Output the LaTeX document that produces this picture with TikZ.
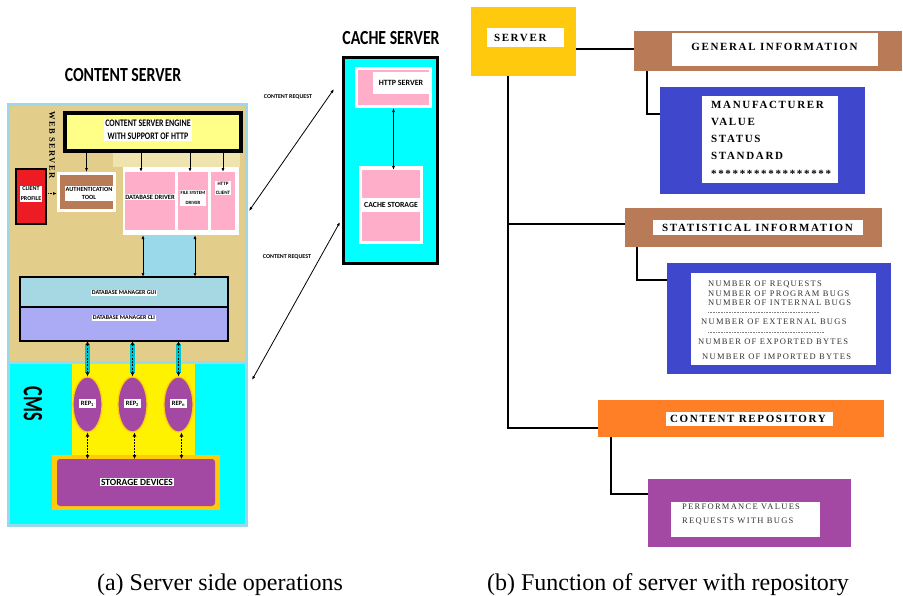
\documentclass[tikz,border=0pt]{standalone}
\usepackage{fontspec}
\setmainfont{Liberation Serif}
\newfontfamily\cbf[FakeStretch=0.79]{Carlito}
\newfontfamily\cbn{Carlito}
\newfontfamily\cbx[FakeStretch=0.65]{Carlito}
\newfontfamily\tls[LetterSpace=15]{Liberation Serif}
\usetikzlibrary{arrows.meta,shapes.geometric,calc}
\newcommand\fsz[2]{\fontsize{#1}{#2}\selectfont}
\definecolor{lblue}{HTML}{99D9EA}
\definecolor{tanbg}{HTML}{E3CD8B}
\definecolor{tanlt}{HTML}{EFE4B0}
\definecolor{engy}{HTML}{FFFF88}
\definecolor{redc}{HTML}{ED1C24}
\definecolor{brownc}{HTML}{B97A57}
\definecolor{pinkc}{HTML}{FFAEC9}
\definecolor{guic}{HTML}{A6D8E4}
\definecolor{clic}{HTML}{AAAAF5}
\definecolor{ylwc}{HTML}{FFF200}
\definecolor{purc}{HTML}{A349A4}
\definecolor{goldc}{HTML}{FFC90E}
\definecolor{bluec}{HTML}{3F48CC}
\definecolor{orangec}{HTML}{FF7F27}
\definecolor{cyanc}{HTML}{00FFFF}
\definecolor{tealc}{HTML}{00C4CC}
\definecolor{txtgray}{HTML}{333333}
\begin{document}
\begin{tikzpicture}[x=1pt,y=-1pt,
  box/.style={inner sep=0pt, outer sep=0pt, draw=none},
  wtxt/.style={fill=white, inner sep=1pt, align=center},
  arr/.style={-{Latex[length=4pt,width=3pt]}, line width=0.8pt},
  darr/.style={{Latex[length=4pt,width=3pt]}-{Latex[length=4pt,width=3pt]}, line width=0.8pt},
  cyarr/.style={{Latex[length=4pt,width=4pt]}-{Latex[length=4pt,width=4pt]}, line width=1.8pt, dash pattern=on 1.8pt off 1.5pt,
     preaction={draw=tealc, line width=4.5pt, solid, -, shorten <=3pt, shorten >=3pt}},
  wharr/.style={{Latex[length=4pt,width=4pt]}-{Latex[length=4pt,width=4pt]}, line width=1.8pt, dash pattern=on 1.6pt off 1.4pt},
  conn/.style={line width=2.5pt},
  rtitle/.style={font=\tls\bfseries\fsz{11}{13}, inner sep=0pt},
  rline/.style={font=\tls\fsz{8.5}{10}, text=txtgray, inner sep=0pt, anchor=west},
  ltitle/.style={font=\cbf\bfseries\fsz{20}{22}},
  captxt/.style={font=\fsz{24}{26}, anchor=base}
]
\useasboundingbox (0,0) rectangle (903,595);

%================ (a) left panel =================
\node[ltitle] (cstitle) at (123,75) {CONTENT SERVER};
\node[box, fill=lblue, minimum width=241, minimum height=424] (csout) at (127.5,315) {};
\node[box, fill=tanbg, minimum width=235, minimum height=255] (web) at (127.5,233.5) {};
\node[box, fill=cyanc, minimum width=235, minimum height=160] (cms) at (127.5,444) {};
\node[box, fill=tanlt, minimum width=127, minimum height=14] (band) at (176.5,160) {};

\node[box, draw=black, line width=3.5pt, fill=engy, minimum width=176, minimum height=38] (engine) at (153,132) {};
\node[wtxt, font=\cbf\bfseries\fsz{10}{13}] (enginet) at (148,130) {CONTENT SERVER ENGINE\\WITH SUPPORT OF HTTP};

\node[box, draw=black, line width=2.5pt, fill=redc, minimum width=30, minimum height=55] (client) at (31,196.5) {};
\node[wtxt, font=\cbn\bfseries\fsz{6}{10}] (clientt) at (31,194) {CLIENT\\PROFILE};

\node[box, fill=white, minimum width=59, minimum height=40] (authw) at (86.5,192) {};
\node[box, fill=brownc, minimum width=53, minimum height=34] (auth) at (86.5,192) {};
\node[wtxt, font=\cbn\bfseries\fsz{6.3}{8.5}] (autht) at (89,193.5) {AUTHENTICATION\\TOOL};

\node[box, fill=white, minimum width=116, minimum height=68] (dbg) at (181,201) {};
\node[box, fill=pinkc, minimum width=50, minimum height=58] (dbd) at (150,201) {};
\node[box, fill=pinkc, minimum width=30, minimum height=58] (fsd) at (193,201) {};
\node[box, fill=pinkc, minimum width=24, minimum height=58] (htc) at (223,201) {};
\node[wtxt, font=\cbn\bfseries\fsz{6.5}{8}] (dbdt) at (150,197) {DATABASE DRIVER};
\node[wtxt, font=\cbn\bfseries\fsz{4.8}{10}] (fsdt) at (193,198) {FILE SYSTEM\\DRIVER};
\node[wtxt, font=\cbn\bfseries\fsz{5}{9}] (htct) at (223,188) {HTTP\\CLIENT};

\node[rotate=-90, font=\tls\bfseries\fsz{8.5}{10}, inner sep=0pt] (webt) at (52,145) {WEB SERVER};

\draw[arr] (engine.south -| authw.north) -- (authw.north);
\draw[arr] ([xshift=-9pt]dbd.north |- engine.south) -- ([xshift=-9pt]dbd.north);
\draw[arr] ([xshift=-3pt]fsd.north |- engine.south) -- ([xshift=-3pt]fsd.north);
\draw[arr] (engine.south -| htc.north) -- (htc.north);
\draw[arr, densely dotted, line width=1pt] (client.east |- autht) -- (authw.west |- autht);

\node[box, fill=lblue, minimum width=52, minimum height=42] (dbc) at (169,256) {};
\draw[darr] (dbc.south west) -- (dbc.north west);
\draw[darr] (dbc.south east) -- (dbc.north east);

\node[box, draw=black, line width=2pt, fill=guic, minimum width=208, minimum height=30] (gui) at (124,292) {};
\node[box, draw=black, line width=2pt, fill=clic, minimum width=208, minimum height=34] (cli) at (124,324) {};
\node[wtxt, font=\cbn\bfseries\fsz{6}{7}] (guit) at (124,293) {DATABASE MANAGER GUI};
\node[wtxt, font=\cbn\bfseries\fsz{6}{7}] (clit) at (124,318) {DATABASE MANAGER CLI};

\node[box, fill=ylwc, minimum width=123, minimum height=93] (ylw) at (133.5,410.5) {};
\node[box, fill=goldc, minimum width=168, minimum height=55] (storo) at (136,482.5) {};
\node[box, fill=purc, rounded corners=3pt, minimum width=158, minimum height=47] (stor) at (136,482.5) {};
\node[wtxt, font=\cbn\bfseries\fsz{9.5}{11}] (stort) at (137,482) {STORAGE DEVICES};

\foreach \n/\x/\s in {rep1/87.5/1, rep2/132.5/2, repn/178.5/n}{
  \node[ellipse, draw=goldc, line width=1.2pt, fill=purc, minimum width=29, minimum height=55, inner sep=0pt] (\n) at (\x,404.5) {};
  \node[wtxt, inner sep=1.5pt, font=\cbn\bfseries\fsz{6.5}{7}] (\n t) at (\x,403.5) {REP\textsubscript{\s}};
}
\draw[cyarr] (cli.south -| rep1) -- (rep1.north);
\draw[cyarr] (cli.south -| rep2) -- (rep2.north);
\draw[cyarr] (cli.south -| repn) -- (repn.north);
\draw[wharr] (rep1.south) -- (rep1.south |- stor.north);
\draw[wharr] ([xshift=2pt]rep2.south) -- ([xshift=2pt]rep2.south |- stor.north);
\draw[wharr] ([xshift=3pt]repn.south) -- ([xshift=3pt]repn.south |- stor.north);

\node[rotate=-90, font=\cbx\bfseries\fsz{28}{30}, inner sep=0pt] (cmst) at (33,404) {CMS};

%================ cache server =================
\node[ltitle] (cachet) at (391,38) {CACHE SERVER};
\node[box, draw=black, line width=3pt, fill=cyanc, minimum width=94, minimum height=206] (cache) at (390,160) {};
\node[box, fill=white, minimum width=77, minimum height=41] (httpw) at (393.5,87.5) {};
\node[box, fill=pinkc, minimum width=71, minimum height=35] (http) at (393.5,87.5) {};
\node[box, fill=white, minimum width=56, minimum height=22, font=\cbn\bfseries\fsz{8}{9}] (httpt) at (401,83) {HTTP SERVER};
\node[box, fill=white, minimum width=64, minimum height=78] (cstw) at (391,205) {};
\node[box, fill=pinkc, minimum width=58, minimum height=71] (cst) at (391,205.5) {};
\node[box, fill=white, minimum width=58, minimum height=14, font=\cbn\bfseries\fsz{7.8}{9}] (cstt) at (391,205) {CACHE STORAGE};
\draw[darr] (httpw.south) -- (httpw.south |- cst.north);

\coordinate (cr1a) at (334,89);
\coordinate (cr1b) at (249,211);
\coordinate (cr2a) at (340,222);
\coordinate (cr2b) at (252,380);
\draw[darr] (cr1b) -- (cr1a);
\draw[darr] (cr2b) -- (cr2a);
\node[font=\cbn\bfseries\fsz{6}{7}, inner sep=0pt] (crl1) at (288,97) {CONTENT REQUEST};
\node[font=\cbn\bfseries\fsz{6}{7}, inner sep=0pt] (crl2) at (287,257) {CONTENT REQUEST};

%================ (b) right panel =================
\node[box, fill=goldc, minimum width=105, minimum height=69] (srv) at (523.5,41.5) {};
\node[box, fill=white, minimum width=77, minimum height=19, inner xsep=7pt, text width=63pt, align=left, font=\tls\bfseries\fsz{11}{13}] (srvt) at (525.5,37.5) {SERVER};

\node[box, fill=brownc, minimum width=268, minimum height=40] (gen) at (768,51) {};
\node[box, fill=white, minimum width=206, minimum height=33] (gent) at (775,49.5) {};
\node[rtitle] (gentx) at (774.5,47) {GENERAL INFORMATION};

\node[box, fill=bluec, minimum width=205, minimum height=107] (gi) at (762.5,140.5) {};
\node[box, fill=white, minimum width=136, minimum height=87] (git) at (770,139.5) {};
\foreach \t/\y [count=\i] in {MANUFACTURER/105, VALUE/122, STATUS/139, STANDARD/156, *****************/174}{
  \node[rtitle, anchor=west] (gil\i) at (711,\y) {\t};
}

\node[box, fill=brownc, minimum width=257, minimum height=39] (stat) at (753.5,227.5) {};
\node[box, fill=white, minimum width=210, minimum height=15] (statt) at (758,227.5) {};
\node[rtitle] (stattx) at (757.5,227.5) {STATISTICAL INFORMATION};

\node[box, fill=bluec, minimum width=224, minimum height=111] (si) at (779,318.5) {};
\node[box, fill=white, minimum width=185, minimum height=92] (sit) at (783.5,319) {};
\node[rline] (s1) at (708,284) {NUMBER OF REQUESTS};
\node[rline] (s2) at (708,293.5) {NUMBER OF PROGRAM BUGS};
\node[rline] (s3) at (708,303) {NUMBER OF INTERNAL BUGS};
\node[rline] (s4) at (701,322) {NUMBER OF EXTERNAL BUGS};
\node[rline] (s5) at (698,342) {NUMBER OF EXPORTED BYTES};
\node[rline] (s6) at (702,357) {NUMBER OF IMPORTED BYTES};
\coordinate (d1a) at (708,312.5);
\coordinate (d1b) at (819,312.5);
\coordinate (d2a) at (708,332);
\coordinate (d2b) at (824,332);
\draw[gray, densely dotted, line width=0.6pt] (d1a) -- (d1b);
\draw[gray, densely dotted, line width=0.6pt] (d2a) -- (d2b);

\node[box, fill=orangec, minimum width=286, minimum height=37] (crep) at (741,418.5) {};
\node[box, fill=white, minimum width=167, minimum height=14] (crept) at (749.5,419) {};
\node[rtitle] (creptx) at (748,418.5) {CONTENT REPOSITORY};

\node[box, fill=purc, minimum width=203, minimum height=68] (perf) at (749.5,513) {};
\node[box, fill=white, minimum width=149, minimum height=35] (perft) at (745.5,519.5) {};
\node[rline] (p1) at (682,507) {PERFORMANCE VALUES};
\node[rline] (p2) at (682,521) {REQUESTS WITH BUGS};

% connectors
\coordinate (trunkend) at (508,428);
\draw[conn] ([yshift=-7.5pt]srv.east) -- ([yshift=-7.5pt]srv.east -| gen.west);
\draw[conn] (srv.south -| trunkend) -- (trunkend) -- (trunkend -| crep.west);
\draw[conn] ([yshift=3.5pt]stat.west -| trunkend) -- ([yshift=3.5pt]stat.west);
\draw[conn] ([xshift=13pt]gen.south west) |- ([yshift=26.5pt]gi.west);
\draw[conn] ([xshift=12pt]stat.south west) |- ([yshift=38.5pt]si.west);
\draw[conn] ([xshift=13pt]crep.south west) |- ([yshift=19pt]perf.west);

% captions
\node[captxt] (capa) at (220,590) {(a) Server side operations};
\node[captxt] (capb) at (668,590) {(b) Function of server with repository};
\end{tikzpicture}
\end{document}
